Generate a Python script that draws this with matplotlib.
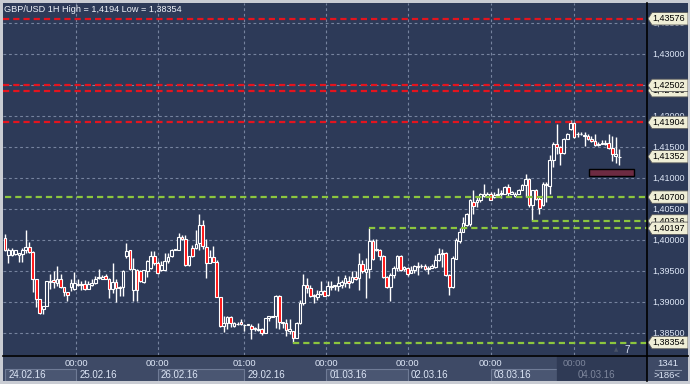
import numpy as np
import matplotlib
matplotlib.use("Agg")
import matplotlib.pyplot as plt
from matplotlib.patches import Rectangle, Polygon
from matplotlib.lines import Line2D

plt.rcParams["font.family"] = ["Liberation Sans", "DejaVu Sans"]

# ---- GBP/USD 1H candles -------------------------------------------------
opens = [
    1.40037, 1.39771, 1.39771, 1.39787, 1.39771, 1.39787, 1.39851, 1.39894, 1.39814, 1.39383,
    1.39053, 1.38893, 1.38947, 1.39330, 1.39356, 1.39319, 1.39372, 1.39255, 1.39175, 1.39250,
    1.39213, 1.39292, 1.39280, 1.39292, 1.39223, 1.39276, 1.39319, 1.39400, 1.39383, 1.39425,
    1.39383, 1.39223, 1.39330, 1.39239, 1.39250, 1.39745, 1.39840, 1.39202, 1.39532, 1.39500,
    1.39330, 1.39505, 1.39558, 1.39755, 1.39638, 1.39521, 1.39532, 1.39665, 1.39745, 1.39851,
    1.39851, 1.40064, 1.40026, 1.39612, 1.39872, 1.39872, 1.39957, 1.40250, 1.39894, 1.39638,
    1.39734, 1.39659, 1.39095, 1.38627, 1.38670, 1.38760, 1.38627, 1.38649, 1.38681, 1.38632,
    1.38638, 1.38619, 1.38577, 1.38555, 1.38577, 1.38512, 1.38753, 1.38769, 1.38780, 1.39111,
    1.38673, 1.38673, 1.38539, 1.38539, 1.38432, 1.38673, 1.38994, 1.39288, 1.39235, 1.39128,
    1.39090, 1.39144, 1.39181, 1.39128, 1.39251, 1.39261, 1.39272, 1.39288, 1.39315, 1.39342,
    1.39325, 1.39411, 1.39395, 1.39625, 1.39486, 1.39539, 1.39984, 1.39839, 1.39850, 1.39753,
    1.39411, 1.39251, 1.39449, 1.39555, 1.39743, 1.39539, 1.39555, 1.39475, 1.39529, 1.39572,
    1.39582, 1.39593, 1.39539, 1.39555, 1.39572, 1.39689, 1.39775, 1.39796, 1.39449, 1.39251,
    1.39705, 1.39984, 1.40144, 1.40247, 1.40263, 1.40622, 1.40622, 1.40649, 1.40714, 1.40724,
    1.40746, 1.40703, 1.40740, 1.40746, 1.40756, 1.40864, 1.40756, 1.40714, 1.40756, 1.40821,
    1.40890, 1.40998, 1.40569, 1.40810, 1.40676, 1.40569, 1.40917, 1.40874, 1.41292, 1.41550,
    1.41507, 1.41410, 1.41641, 1.41802, 1.41893, 1.41711, 1.41711, 1.41678, 1.41678, 1.41641,
    1.41603, 1.41534, 1.41560, 1.41560, 1.41571, 1.41496, 1.41357, 1.41346,
]
highs = [
    1.40101, 1.39878, 1.39878, 1.39840, 1.39798, 1.39878, 1.40170, 1.39968, 1.39824, 1.39383,
    1.39053, 1.38947, 1.39346, 1.39452, 1.39505, 1.39585, 1.39452, 1.39255, 1.39175, 1.39372,
    1.39489, 1.39372, 1.39346, 1.39362, 1.39346, 1.39372, 1.39425, 1.39542, 1.39436, 1.39452,
    1.39399, 1.39638, 1.39372, 1.39260, 1.39532, 1.39957, 1.39851, 1.39718, 1.39540, 1.39532,
    1.39532, 1.39681, 1.39824, 1.39824, 1.39665, 1.39665, 1.39798, 1.39798, 1.39862, 1.39870,
    1.40128, 1.40090, 1.40090, 1.39755, 1.39931, 1.40170, 1.40426, 1.40330, 1.40021, 1.39851,
    1.39904, 1.39691, 1.39095, 1.38787, 1.38787, 1.38787, 1.38680, 1.38681, 1.38734, 1.38650,
    1.38660, 1.38646, 1.38600, 1.38662, 1.38590, 1.38753, 1.38790, 1.38790, 1.39128, 1.39128,
    1.38690, 1.38726, 1.38726, 1.38545, 1.38680, 1.39047, 1.39465, 1.39395, 1.39288, 1.39135,
    1.39208, 1.39342, 1.39208, 1.39342, 1.39342, 1.39290, 1.39422, 1.39368, 1.39449, 1.39422,
    1.39502, 1.39502, 1.39796, 1.39679, 1.39716, 1.40197, 1.40021, 1.40021, 1.39860, 1.39770,
    1.39420, 1.39475, 1.39593, 1.39770, 1.39770, 1.39593, 1.39572, 1.39593, 1.39604, 1.39646,
    1.39625, 1.39625, 1.39582, 1.39625, 1.39770, 1.39877, 1.39860, 1.39807, 1.39465, 1.39753,
    1.40037, 1.40198, 1.40385, 1.40446, 1.40676, 1.40810, 1.40703, 1.40767, 1.40917, 1.40783,
    1.40783, 1.40783, 1.40853, 1.40810, 1.40874, 1.40917, 1.40799, 1.40783, 1.40837, 1.40917,
    1.41078, 1.41014, 1.40821, 1.40837, 1.40703, 1.40944, 1.40944, 1.41373, 1.41587, 1.41882,
    1.41518, 1.41657, 1.41732, 1.41940, 1.41909, 1.41748, 1.41748, 1.41748, 1.41721, 1.41678,
    1.41721, 1.41587, 1.41614, 1.41614, 1.41711, 1.41678, 1.41668, 1.41480,
]
lows = [
    1.39835, 1.39638, 1.39745, 1.39771, 1.39649, 1.39649, 1.39798, 1.39798, 1.39170, 1.38920,
    1.38814, 1.38814, 1.38947, 1.39213, 1.39239, 1.39266, 1.39239, 1.39106, 1.39026, 1.39186,
    1.39202, 1.39260, 1.39202, 1.39202, 1.39213, 1.39260, 1.39300, 1.39372, 1.39372, 1.39372,
    1.39080, 1.39159, 1.39000, 1.39106, 1.39106, 1.39718, 1.39532, 1.39026, 1.39026, 1.39330,
    1.39319, 1.39415, 1.39542, 1.39612, 1.39460, 1.39505, 1.39520, 1.39638, 1.39740, 1.39845,
    1.39840, 1.40015, 1.39585, 1.39596, 1.39734, 1.39860, 1.39851, 1.39862, 1.39399, 1.39630,
    1.39650, 1.39090, 1.38601, 1.38532, 1.38574, 1.38601, 1.38601, 1.38640, 1.38640, 1.38548,
    1.38630, 1.38405, 1.38539, 1.38539, 1.38470, 1.38512, 1.38700, 1.38760, 1.38593, 1.38577,
    1.38593, 1.38459, 1.38486, 1.38354, 1.38420, 1.38646, 1.38967, 1.39154, 1.39090, 1.38994,
    1.39047, 1.39128, 1.39101, 1.39111, 1.39208, 1.39208, 1.39181, 1.39235, 1.39251, 1.39235,
    1.39315, 1.39370, 1.39208, 1.39475, 1.39074, 1.39395, 1.39689, 1.39823, 1.39689, 1.39395,
    1.39235, 1.39021, 1.39395, 1.39502, 1.39502, 1.39502, 1.39422, 1.39470, 1.39475, 1.39449,
    1.39555, 1.39529, 1.39465, 1.39550, 1.39555, 1.39663, 1.39572, 1.39432, 1.39128, 1.39235,
    1.39700, 1.39967, 1.40140, 1.40240, 1.40240, 1.40435, 1.40542, 1.40622, 1.40700, 1.40703,
    1.40649, 1.40690, 1.40730, 1.40692, 1.40750, 1.40703, 1.40750, 1.40705, 1.40750, 1.40810,
    1.40703, 1.40542, 1.40316, 1.40660, 1.40435, 1.40553, 1.40622, 1.40756, 1.41185, 1.41400,
    1.41212, 1.41400, 1.41630, 1.41786, 1.41660, 1.41668, 1.41700, 1.41518, 1.41625, 1.41587,
    1.41518, 1.41518, 1.41550, 1.41534, 1.41480, 1.41282, 1.41250, 1.41212,
]
closes = [
    1.39840, 1.39851, 1.39851, 1.39840, 1.39798, 1.39851, 1.39888, 1.39814, 1.39383, 1.39053,
    1.38830, 1.38947, 1.39340, 1.39346, 1.39330, 1.39372, 1.39255, 1.39175, 1.39122, 1.39319,
    1.39319, 1.39276, 1.39292, 1.39223, 1.39292, 1.39319, 1.39383, 1.39415, 1.39415, 1.39383,
    1.39223, 1.39330, 1.39239, 1.39255, 1.39516, 1.39824, 1.39548, 1.39542, 1.39202, 1.39346,
    1.39521, 1.39665, 1.39755, 1.39638, 1.39468, 1.39612, 1.39665, 1.39734, 1.39851, 1.39862,
    1.40064, 1.40021, 1.39612, 1.39745, 1.39745, 1.39947, 1.40250, 1.39904, 1.39638, 1.39734,
    1.39659, 1.39095, 1.38627, 1.38670, 1.38760, 1.38670, 1.38670, 1.38660, 1.38649, 1.38643,
    1.38650, 1.38577, 1.38590, 1.38577, 1.38512, 1.38753, 1.38780, 1.38780, 1.39111, 1.38684,
    1.38684, 1.38555, 1.38566, 1.38432, 1.38673, 1.38994, 1.39288, 1.39235, 1.39111, 1.39101,
    1.39144, 1.39181, 1.39111, 1.39261, 1.39272, 1.39283, 1.39315, 1.39325, 1.39395, 1.39315,
    1.39411, 1.39379, 1.39625, 1.39502, 1.39539, 1.39984, 1.39700, 1.39860, 1.39753, 1.39411,
    1.39251, 1.39449, 1.39555, 1.39743, 1.39529, 1.39572, 1.39465, 1.39518, 1.39593, 1.39593,
    1.39593, 1.39539, 1.39555, 1.39582, 1.39689, 1.39786, 1.39796, 1.39449, 1.39251, 1.39716,
    1.40010, 1.40144, 1.40278, 1.40435, 1.40649, 1.40553, 1.40660, 1.40746, 1.40746, 1.40746,
    1.40660, 1.40740, 1.40756, 1.40767, 1.40864, 1.40767, 1.40783, 1.40756, 1.40821, 1.40890,
    1.40998, 1.40569, 1.40810, 1.40676, 1.40531, 1.40917, 1.40890, 1.41292, 1.41550, 1.41507,
    1.41410, 1.41641, 1.41721, 1.41893, 1.41668, 1.41721, 1.41721, 1.41705, 1.41641, 1.41603,
    1.41534, 1.41560, 1.41571, 1.41571, 1.41496, 1.41389, 1.41389, 1.41352,
]

red_levels = [1.43576, 1.42416, 1.42502, 1.41904]
green_levels = [1.40700, 1.40316, 1.40197, 1.38354]
green_from = [0, 152, 105, 83]          # candle where each support line starts
last_price = 1.41352
grid_prices = [1.385, 1.390, 1.395, 1.400, 1.405, 1.410, 1.415, 1.420, 1.425, 1.430, 1.435]
day_pos = [0, 20.5, 44, 69, 92.5, 116, 140, 164]
time_labels = ["00:00", "00:00", "01:00", "00:00", "00:00", "00:00", "00:00"]
date_labels = ["24.02.16", "25.02.16", "26.02.16", "29.02.16",
               "01.03.16", "02.03.16", "03.03.16", "04.03.16"]

# ---- colours -----------------------------------------------------------
BG = "#2d3a58"
BAR = "#3e4a66"
GRID = "#76839f"
TXT = "#dde6f6"
RED = "#e4141e"
GREEN = "#8cc63e"

W, H = 690, 384
def box(x0, y0, x1, y1):
    return [x0 / W, 1 - y1 / H, (x1 - x0) / W, (y1 - y0) / H]

XLIM = (-0.58, 185.0)
YLIM = (1.381532, 1.438306)

fig = plt.figure(figsize=(W / 100, H / 100), dpi=100, facecolor="#c9ccd3")

# ---- main price panel --------------------------------------------------
ax = fig.add_axes(box(3, 3, 647, 355), facecolor=BG)
ax.set_xlim(*XLIM); ax.set_ylim(*YLIM)
ax.set_axis_off()
ax.add_patch(Rectangle((0, 0), 1, 1, transform=ax.transAxes, color=BG, zorder=0))

for p in grid_prices:
    ax.axhline(p, color=GRID, lw=0.8, ls=(0, (2.5, 2.5)), zorder=1)
for d in day_pos[1:]:
    ax.axvline(d, color=GRID, lw=0.8, ls=(0, (2.5, 2.5)), zorder=1)

x = np.arange(len(closes))
o, h, l, c = map(np.array, (opens, highs, lows, closes))
ax.vlines(x, l, h, color="white", lw=1.0, zorder=3)
bull = c >= o
body_lo = np.minimum(o, c)
body_h = np.maximum(np.abs(c - o), 0.00003)
ax.bar(x[bull], body_h[bull], bottom=body_lo[bull], width=0.78,
       color=BG, edgecolor="white", linewidth=0.8, zorder=4)
ax.bar(x[~bull], body_h[~bull], bottom=body_lo[~bull], width=0.78,
       color="#ff1010", edgecolor="white", linewidth=0.8, zorder=4)

for p in red_levels:
    ax.axhline(p, color=RED, lw=1.6, ls=(0, (2.8, 1.8)), zorder=5)
for p, s in zip(green_levels, green_from):
    ax.hlines(p, s, XLIM[1], color=GREEN, lw=1.6, ls=(0, (2.8, 1.8)), zorder=5)

# box marking the next bars
ax.add_patch(Rectangle((168.2, 1.41040), 13, 0.00113, facecolor="#6d2b42",
                       edgecolor="black", lw=1, zorder=6))

# ---- right price scale -------------------------------------------------
axr = fig.add_axes(box(647, 3, 688, 355), facecolor=BG)
axr.set_xlim(0, 41); axr.set_ylim(*YLIM)
axr.set_axis_off()
axr.add_patch(Rectangle((0, 0), 1, 1, transform=axr.transAxes, color=BG, zorder=0))
for p in grid_prices:
    axr.text(5.5, p, f"{p:.5f}".replace(".", ","), color=TXT, fontsize=6.5,
             va="center", ha="left", zorder=2)

dh = 6.2 / 6200
tags = [1.43576, 1.42416, 1.42502, 1.41904, last_price, 1.40700, 1.40316, 1.40197, 1.38354]
for k, p in enumerate(tags):
    axr.add_patch(Polygon([(1, p), (5, p + dh), (41, p + dh), (41, p - dh), (5, p - dh)],
                          closed=True, facecolor="#efeed6", edgecolor="#5a5a5a",
                          lw=0.6, zorder=3 + 2 * k))
    axr.text(5.5, p, f"{p:.5f}".replace(".", ","), color="black", fontsize=6.5,
             va="center", ha="left", zorder=4 + 2 * k)

# ---- time scale ---------------------------------------------------------
axb = fig.add_axes(box(3, 355, 647, 381), facecolor=BAR)
axb.set_xlim(*XLIM); axb.set_ylim(26, 0)
axb.set_axis_off()
axb.add_patch(Rectangle((0, 0), 1, 1, transform=axb.transAxes, color=BAR, zorder=0))
ends = day_pos[1:] + [XLIM[1]]
for k, (s, e, lab) in enumerate(zip(day_pos, ends, date_labels)):
    if k == len(date_labels) - 1:
        axb.add_patch(Rectangle((159, 0.5), XLIM[1] - 159, 26, color="#2f3a55", zorder=1))
        col = "#7d869c"
    else:
        col = TXT
        if k % 2 == 0:
            e2 = 159 if k == len(date_labels) - 2 else e
            axb.add_patch(Rectangle((s, 13.5), e2 - s, 12, facecolor="#4a5672",
                                    edgecolor="#6f7b96", lw=0.8, zorder=1))
    axb.text(s + 0.9, 20, lab, color=col, fontsize=7, va="center", ha="left", zorder=2)
for k, (d, lab) in enumerate(zip(day_pos[1:], time_labels)):
    col = "#7d869c" if k == len(time_labels) - 1 else TXT
    axb.text(d, 8, lab, color=col, fontsize=6.8, va="center", ha="center", zorder=2)

axc = fig.add_axes(box(647, 355, 688, 381), facecolor=BAR)
axc.set_xlim(0, 41); axc.set_ylim(26, 0)
axc.set_axis_off()
axc.add_patch(Rectangle((0, 0), 1, 1, transform=axc.transAxes, color=BAR, zorder=0))
axc.text(20.5, 8, "1341", color=TXT, fontsize=6.8, ha="center", va="center")
axc.plot([8, 34], [14.5, 14.5], color="#8a94aa", lw=0.8)
axc.text(20.5, 21, ">186<", color=TXT, fontsize=6.8, ha="center", va="center")

# ---- separators and header ----------------------------------------------
fig.add_artist(Line2D([647 / W, 647 / W], [1 - 381 / H, 1 - 3 / H], color="black", lw=1.2))
fig.add_artist(Line2D([3 / W, 688 / W], [1 - 355.5 / H, 1 - 355.5 / H], color="black", lw=1.2))

fig.text(4 / W, 1 - 9 / H, "GBP/USD 1H High = 1,4194 Low = 1,38354", color="#eef2f8",
         fontsize=6.6, va="center", ha="left")
fig.text(616 / W, 1 - 349.5 / H, "\u25b2", color="#4a5468", fontsize=4,
         va="center", ha="center", family="DejaVu Sans")
fig.text(627 / W, 1 - 350 / H, "7", color=TXT, fontsize=7, va="center", ha="center")

fig.savefig("out.png", dpi=100, facecolor=fig.get_facecolor())
